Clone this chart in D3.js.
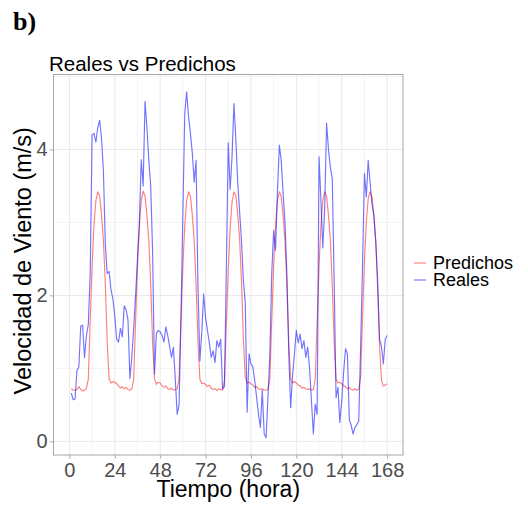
<!DOCTYPE html>
<html>
<head>
<meta charset="utf-8">
<script src="https://cdn.jsdelivr.net/npm/d3@7"></script>
<style>
  html, body { margin: 0; padding: 0; background: #fff; }
  svg { display: block; font-family: "Liberation Sans", Arial, sans-serif; }
</style>
</head>
<body>
<svg id="chart" width="528" height="506"></svg>
<script>
// Hourly wind speed over one week: measured vs model prediction
const hours = d3.range(1, 169);

const predichos = [
  0.72, 0.70, 0.70, 0.71, 0.75, 0.71, 0.69, 0.70, 0.73,
  0.85, 1.65, 2.40, 2.95, 3.30, 3.42, 3.36, 3.10, 2.75, 2.15, 1.35, 0.85,
  0.80, 0.82, 0.81, 0.79, 0.76, 0.73, 0.75, 0.72, 0.74, 0.71, 0.70, 0.72,
  0.85, 1.65, 2.40, 2.95, 3.30, 3.43, 3.36, 3.10, 2.75, 2.15, 1.35, 0.86,
  0.78, 0.81, 0.80, 0.76, 0.74, 0.76, 0.72, 0.71, 0.73, 0.70, 0.71, 0.72,
  0.86, 1.65, 2.40, 2.95, 3.30, 3.42, 3.36, 3.10, 2.75, 2.15, 1.35, 0.85,
  0.79, 0.80, 0.78, 0.75, 0.77, 0.73, 0.71, 0.72, 0.70, 0.72, 0.71, 0.70,
  0.84, 1.60, 2.35, 2.92, 3.28, 3.42, 3.37, 3.12, 2.78, 2.20, 1.40, 0.88,
  0.80, 0.81, 0.79, 0.77, 0.74, 0.75, 0.72, 0.71, 0.72, 0.70, 0.70, 0.71,
  0.85, 1.65, 2.40, 2.95, 3.30, 3.42, 3.36, 3.10, 2.75, 2.15, 1.35, 0.85,
  0.80, 0.82, 0.80, 0.77, 0.76, 0.73, 0.74, 0.72, 0.71, 0.72, 0.70, 0.71,
  0.85, 1.65, 2.40, 2.95, 3.30, 3.42, 3.36, 3.10, 2.75, 2.15, 1.35, 0.85,
  0.80, 0.81, 0.79, 0.76, 0.75, 0.72, 0.74, 0.71, 0.70, 0.72, 0.70, 0.71,
  0.88, 1.70, 2.45, 3.00, 3.33, 3.42, 3.35, 3.08, 2.72, 2.10, 1.30, 0.84,
  0.76, 0.77, 0.79
];

const reales = [
  0.66, 0.57, 0.58, 0.97, 1.02, 1.58, 1.59, 1.15, 1.45, 1.60,
  2.30, 4.20, 4.22, 4.10, 4.30, 4.40, 4.15, 3.70, 2.70, 2.30,
  2.33, 2.08, 1.95, 1.72, 1.40, 1.36, 1.55, 1.43, 1.86, 1.80,
  1.66, 0.86, 1.15, 1.55, 2.00, 2.50, 3.00, 3.86, 3.50, 4.66,
  4.30, 3.85, 3.50, 2.60, 0.92, 1.48, 1.52, 1.50, 1.45, 1.36,
  1.57, 1.45, 1.30, 1.15, 1.29, 0.85, 0.37, 0.50, 1.70, 3.12,
  4.50, 4.79, 4.45, 4.22, 3.95, 3.55, 3.85, 2.10, 1.10, 1.50,
  2.02, 1.70, 1.52, 1.35, 1.15, 1.24, 1.08, 1.38, 1.29, 1.40,
  0.72, 0.75, 2.40, 4.09, 3.45, 3.90, 4.63, 4.15, 3.55, 3.15,
  2.75, 2.20, 1.90, 0.40, 1.20, 1.06, 1.02, 0.83, 0.60, 0.37,
  0.19, 0.70, 0.10, 0.05, 0.60, 1.20, 2.30, 2.89, 2.62, 3.40,
  4.06, 3.85, 3.40, 3.00, 2.30, 1.20, 0.46, 0.90, 1.20, 1.52,
  1.35, 1.47, 1.27, 1.38, 1.15, 1.29, 1.00, 0.55, 0.10, 0.51,
  0.37, 3.90, 3.30, 2.65, 3.20, 4.36, 4.00, 3.75, 3.60, 2.20,
  0.60, 0.74, 0.26, 0.55, 0.95, 1.27, 1.20, 0.30, 0.22, 0.10,
  0.19, 0.23, 0.28, 1.30, 2.40, 3.67, 3.35, 3.85, 3.55, 3.25,
  3.10, 2.75, 2.20, 1.40, 1.30, 1.06, 1.40, 1.45
];

const xLimits = [0, 168];
const xTicks = [0, 24, 48, 72, 96, 120, 144, 168];
const xMinor = [12, 36, 60, 84, 108, 132, 156];
const yTicks = [0, 2, 4];
const yMinor = [1, 3, 5];

const seriesNames = ["Predichos", "Reales"];
const seriesColors = { Predichos: "#ff0000", Reales: "#0000ff" };

const svg = d3.select("#chart");
const W = 528, H = 506;
const panel = { left: 53.5, right: 403, top: 74.5, bottom: 455 };

// 5% expansion on each side of the data/limit range
function expand(lo, hi) { const d = (hi - lo) * 0.05; return [lo - d, hi + d]; }

const x = d3.scaleLinear().domain(expand(xLimits[0], xLimits[1])).range([panel.left, panel.right]);
const allVals = predichos.concat(reales);
const y = d3.scaleLinear().domain(expand(d3.min(allVals), d3.max(allVals))).range([panel.bottom, panel.top]);

svg.append("rect").attr("width", W).attr("height", H).attr("fill", "#fff");

// grid
const grid = svg.append("g");
grid.selectAll(".vmin").data(xMinor).join("line")
  .attr("x1", d => x(d)).attr("x2", d => x(d))
  .attr("y1", panel.top).attr("y2", panel.bottom)
  .attr("stroke", "#f3f3f3").attr("stroke-width", 1);
grid.selectAll(".hmin").data(yMinor.filter(v => y(v) > panel.top)).join("line")
  .attr("x1", panel.left).attr("x2", panel.right)
  .attr("y1", d => y(d)).attr("y2", d => y(d))
  .attr("stroke", "#f3f3f3").attr("stroke-width", 1);
grid.selectAll(".vmaj").data(xTicks).join("line")
  .attr("x1", d => x(d)).attr("x2", d => x(d))
  .attr("y1", panel.top).attr("y2", panel.bottom)
  .attr("stroke", "#e9e9e9").attr("stroke-width", 1);
grid.selectAll(".hmaj").data(yTicks).join("line")
  .attr("x1", panel.left).attr("x2", panel.right)
  .attr("y1", d => y(d)).attr("y2", d => y(d))
  .attr("stroke", "#e9e9e9").attr("stroke-width", 1);

// series lines
const line = d3.line().x((d, i) => x(hours[i])).y(d => y(d));
const seriesData = { Predichos: predichos, Reales: reales };
seriesNames.forEach(name => {
  svg.append("path")
    .datum(seriesData[name])
    .attr("fill", "none")
    .attr("stroke", seriesColors[name])
    .attr("stroke-opacity", name === "Predichos" ? 0.5 : 0.55)
    .attr("stroke-width", 1.15)
    .attr("stroke-linejoin", "round")
    .attr("d", line);
});

// panel border
svg.append("rect")
  .attr("x", panel.left).attr("y", panel.top)
  .attr("width", panel.right - panel.left).attr("height", panel.bottom - panel.top)
  .attr("fill", "none").attr("stroke", "#a6a6a6").attr("stroke-width", 1);

// axes
const xAxis = svg.append("g")
  .attr("transform", `translate(0,${panel.bottom})`)
  .call(d3.axisBottom(x).tickValues(xTicks).tickSize(3.5).tickPadding(4).tickFormat(d3.format("d")));
const yAxis = svg.append("g")
  .attr("transform", `translate(${panel.left},0)`)
  .call(d3.axisLeft(y).tickValues(yTicks).tickSize(3.5).tickPadding(2.5).tickFormat(d3.format("d")));
[xAxis, yAxis].forEach(g => {
  g.select(".domain").remove();
  g.selectAll(".tick line").attr("stroke", "#a6a6a6");
  g.selectAll(".tick text").attr("fill", "#4d4d4d")
    .style("font-family", "'Liberation Sans', Arial, sans-serif")
    .style("font-size", "20px");
});
xAxis.selectAll(".tick text").attr("dy", "0.7em");

// axis titles
svg.append("text")
  .attr("x", (panel.left + panel.right) / 2).attr("y", 496.5)
  .attr("text-anchor", "middle").attr("font-size", 23).attr("fill", "#000")
  .text("Tiempo (hora)");
svg.append("text")
  .attr("transform", `translate(31,${(panel.top + panel.bottom) / 2 - 4}) rotate(-90)`)
  .attr("text-anchor", "middle").attr("font-size", 23.5).attr("fill", "#000")
  .text("Velocidad de Viento (m/s)");

// title
svg.append("text")
  .attr("x", 49).attr("y", 70.5)
  .attr("font-size", 20.5).attr("fill", "#000")
  .text("Reales vs Predichos");

// panel tag
svg.append("text")
  .attr("x", 13).attr("y", 29.5)
  .style("font-family", "'Liberation Serif', 'Times New Roman', serif")
  .attr("font-weight", "bold").attr("font-size", 26).attr("fill", "#000")
  .text("b)");

// legend
const legend = svg.append("g").attr("transform", "translate(412,254)");
seriesNames.forEach((name, i) => {
  const gy = i * 17;
  legend.append("line")
    .attr("x1", 2).attr("x2", 14).attr("y1", gy + 9).attr("y2", gy + 9)
    .attr("stroke", seriesColors[name])
    .attr("stroke-opacity", name === "Predichos" ? 0.5 : 0.55)
    .attr("stroke-width", 1.15);
  legend.append("text")
    .attr("x", 21).attr("y", gy + 9).attr("dy", "0.35em")
    .attr("font-size", 18).attr("fill", "#000")
    .text(name);
});
</script>
</body>
</html>
